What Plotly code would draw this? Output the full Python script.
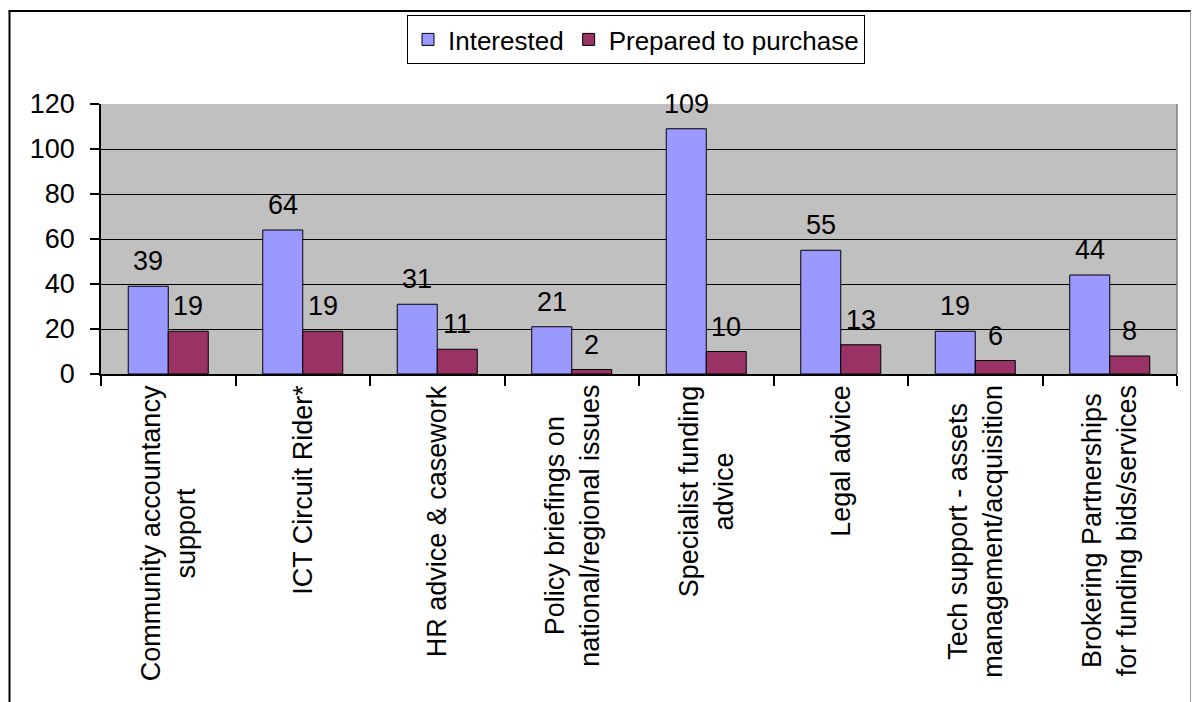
import plotly.graph_objects as go

# Survey results: services members are interested in vs. prepared to pay for
categories = [
    "Community accountancy<br>support",
    "ICT Circuit Rider*",
    "HR advice & casework",
    "Policy briefings on<br>national/regional issues",
    "Specialist funding<br>advice",
    "Legal advice",
    "Tech support - assets<br>management/acquisition",
    "Brokering Partnerships<br>for funding bids/services",
]
interested = [39, 64, 31, 21, 109, 55, 19, 44]
prepared = [19, 19, 11, 2, 10, 13, 6, 8]
y_ticks = [0, 20, 40, 60, 80, 100, 120]

FONT = "Liberation Sans, Arial, sans-serif"
FS = 27
FS_LEG = 26

W, H = 1192, 702
ML, MR, MT, MB = 101, 15, 104, 328
PW, PH = W - ML - MR, H - MT - MB


def px_x(p):
    return (p - ML) / PW


def px_y(p):
    return (H - MB - p) / PH


fig = go.Figure()
fig.add_trace(go.Bar(
    name="Interested", x=categories, y=interested,
    marker=dict(color="#9999FF", line=dict(color="black", width=1)),
))
fig.add_trace(go.Bar(
    name="Prepared to purchase", x=categories, y=prepared,
    marker=dict(color="#993366", line=dict(color="black", width=1)),
))

annotations = []
# value labels above each bar
for series, shift in ((interested, -20), (prepared, 20)):
    for cat, v in zip(categories, series):
        annotations.append(dict(
            x=cat, y=v, xref="x", yref="y", text=str(v), showarrow=False,
            xanchor="center", yanchor="bottom", xshift=shift, yshift=8,
            font=dict(family=FONT, size=FS, color="black"),
        ))
# rotated category labels with centred lines
for cat in categories:
    annotations.append(dict(
        x=cat, y=0, xref="x", yref="paper", text=cat, showarrow=False,
        textangle=-90, align="center", xanchor="center", yanchor="top",
        yshift=-9, font=dict(family=FONT, size=FS, color="black"),
    ))

shapes = [
    # chart frame
    dict(type="line", xref="paper", yref="paper", x0=px_x(9.5), x1=px_x(9.5),
         y0=px_y(11), y1=px_y(710), line=dict(color="black", width=2)),
    dict(type="line", xref="paper", yref="paper", x0=px_x(8.5), x1=px_x(1191),
         y0=px_y(11), y1=px_y(11), line=dict(color="black", width=2)),
    dict(type="line", xref="paper", yref="paper", x0=px_x(1190.5), x1=px_x(1190.5),
         y0=px_y(11), y1=px_y(710), line=dict(color="#9a9a9a", width=1)),
    # plot area right edge
    dict(type="line", xref="paper", yref="paper", x0=1, x1=1, y0=0, y1=1,
         line=dict(color="#808080", width=1.5)),
]

fig.update_layout(
    width=W, height=H,
    margin=dict(l=ML, r=MR, t=MT, b=MB, pad=0),
    paper_bgcolor="white", plot_bgcolor="#C0C0C0",
    barmode="group", bargap=0.405, bargroupgap=0,
    font=dict(family=FONT, size=FS, color="black"),
    showlegend=True,
    legend=dict(
        orientation="h", x=px_x(636), xanchor="center", y=px_y(15), yanchor="top",
        bgcolor="white", bordercolor="black", borderwidth=1,
        font=dict(family=FONT, size=FS_LEG, color="black"),
        itemwidth=30, tracegroupgap=0,
    ),
    annotations=annotations,
    shapes=shapes,
)
fig.update_xaxes(
    type="category", showticklabels=False, showgrid=False,
    showline=True, linecolor="black", linewidth=1.5,
    ticks="outside", tickson="boundaries", ticklen=10, tickcolor="black", tickwidth=1.5,
)
fig.update_yaxes(
    range=[0, 120], tickvals=y_ticks, ticktext=[str(t) for t in y_ticks],
    showgrid=True, gridcolor="black", gridwidth=1.2,
    showline=True, linecolor="black", linewidth=1.5,
    ticks="outside", ticklen=9, tickcolor="black", tickwidth=1.5,
    ticklabelstandoff=10, zeroline=False,
    tickfont=dict(family=FONT, size=FS, color="black"),
)

fig.write_html("out.html")
